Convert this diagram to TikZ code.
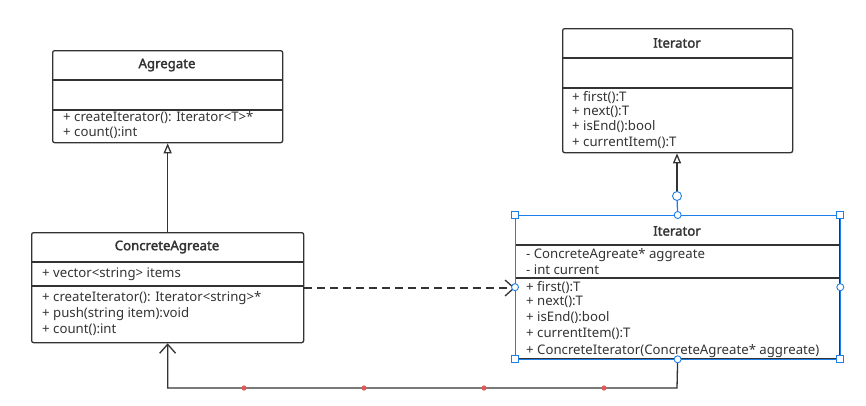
\documentclass[tikz,border=0pt]{standalone}
\usepackage{fontspec}
\setmainfont{Noto Sans}[AutoFakeBold=2.2]
\usepackage{tikz}
\usetikzlibrary{arrows.meta,positioning,calc}
\definecolor{Ink}{HTML}{333333}
\definecolor{Sel}{HTML}{1E7FE8}
\definecolor{Dot}{HTML}{E05A5A}

\tikzset{
  classbox/.style={draw=Ink,line width=1.3pt,rounded corners=2pt,inner sep=0pt,anchor=north west},
  classname/.style={font=\bfseries\fontsize{13.2}{15}\selectfont,text=Ink,inner sep=0pt},
  member/.style={font=\fontsize{13.2}{15}\selectfont,text=Ink,anchor=west,inner sep=0pt},
  divider/.style={draw=Ink,line width=1.1pt},
  link/.style={draw=Ink,line width=1.3pt},
  handle/.style={draw=Sel,fill=white,line width=0.9pt,inner sep=0pt,minimum size=7pt},
  knob/.style={draw=Sel,fill=white,line width=0.9pt,circle,inner sep=0pt,minimum size=7pt}
}

\begin{document}
\begin{tikzpicture}[x=1pt,y=-1pt]
  \useasboundingbox (0,0) rectangle (866,405);

  % Agregate
  \node[classbox,minimum width=230pt,minimum height=92pt] (agg) at (52,50) {};
  \node[classname] (aggname) at (167,65) {Agregate};
  \draw[divider] (agg.west |- 0,80) -- (agg.east |- 0,80);
  \draw[divider] (agg.west |- 0,110) -- (agg.east |- 0,110);
  \node[member] (agg1) at (63,118) {+ createIterator(): Iterator<T>*};
  \node[member] (agg2) at (63,133) {+ count():int};

  % ConcreteAgreate
  \node[classbox,minimum width=272pt,minimum height=110pt] (cagg) at (31,232) {};
  \node[classname] (caggname) at (167,247) {ConcreteAgreate};
  \draw[divider] (cagg.west |- 0,262) -- (cagg.east |- 0,262);
  \draw[divider] (cagg.west |- 0,286) -- (cagg.east |- 0,286);
  \node[member] (cagg1) at (42,274) {+ vector<string> items};
  \node[member] (cagg2) at (42,298) {+ createIterator(): Iterator<string>*};
  \node[member] (cagg3) at (42,314) {+ push(string item):void};
  \node[member] (cagg4) at (42,330) {+ count():int};

  % Iterator
  \node[classbox,minimum width=230pt,minimum height=124pt] (iter) at (562,28) {};
  \node[classname] (itername) at (677,43) {Iterator};
  \draw[divider] (iter.west |- 0,58) -- (iter.east |- 0,58);
  \draw[divider] (iter.west |- 0,88) -- (iter.east |- 0,88);
  \node[member] (iter1) at (572,97) {+ first():T};
  \node[member] (iter2) at (572,112) {+ next():T};
  \node[member] (iter3) at (572,127) {+ isEnd():bool};
  \node[member] (iter4) at (572,143) {+ currentItem():T};

  % concrete iterator (selected)
  \node[classbox,rounded corners=0pt,minimum width=324pt,minimum height=143pt] (citer) at (515,215) {};
  \node[classname] (citername) at (677,231) {Iterator};
  \draw[divider] (citer.west |- 0,245) -- (citer.east |- 0,245);
  \draw[divider] (citer.west |- 0,278) -- (citer.east |- 0,278);
  \node[member] (citer1) at (526,255) {- ConcreteAgreate* aggreate};
  \node[member] (citer2) at (526,270) {- int current};
  \node[member] (citer3) at (526,287) {+ first():T};
  \node[member] (citer4) at (526,302) {+ next():T};
  \node[member] (citer5) at (526,318) {+ isEnd():bool};
  \node[member] (citer6) at (526,334) {+ currentItem():T};
  \node[member] (citer7) at (526,351) {+ ConcreteIterator(ConcreteAgreate* aggreate)};
  \draw[Sel,line width=0.7pt] (citer.north west) rectangle (citer.south east);

  % connectors
  \draw[link,-{Triangle[open,length=10pt,width=8pt]}] (cagg.north) -- (cagg.north |- agg.south);
  \coordinate (bend) at (677,196);
  \draw[link,-{Triangle[open,length=10pt,width=8pt]}] (bend) -- (bend |- iter.south);
  \draw[Sel,line width=1.3pt] (citer.north) -- (bend);
  \draw[link,dashed,dash pattern=on 8pt off 5pt,-{Straight Barb[length=9pt,width=16pt,line width=1.3pt]}]
    (cagg.east |- 0,288) -- (citer.west |- 0,288);
  \coordinate (low) at (677,388);
  \draw[link,-{Straight Barb[length=9pt,width=16pt,line width=1.3pt]}]
    (citer.south) -- (low) -| (cagg.south);
  \foreach \x in {244,364,484,604}
    \fill[Dot] (\x,388) circle (2.6pt);

  % selection handles
  \foreach \c in {north west,north east,south west,south east}
    \node[handle] at (citer.\c) {};
  \foreach \c in {north,south,east,west}
    \node[knob] at (citer.\c) {};
  \node[knob,minimum size=9pt] (bendknob) at (bend) {};
\end{tikzpicture}
\end{document}
